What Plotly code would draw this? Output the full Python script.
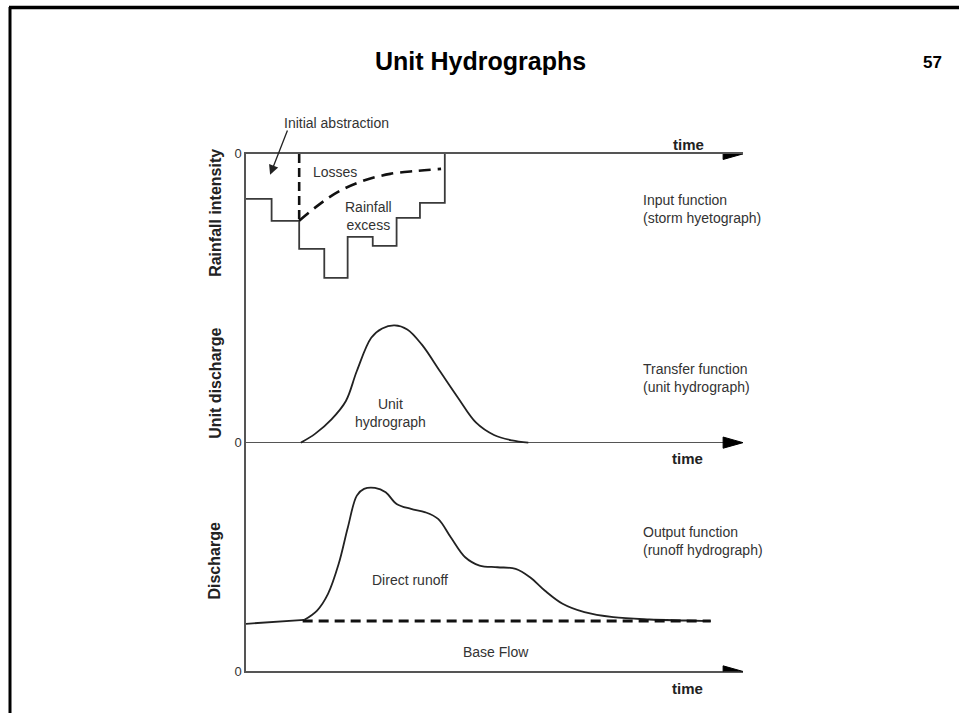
import plotly.graph_objects as go

# ---------------- data ----------------
# Storm hyetograph (time in h, intensity plotted downward)
rain_t = [0, 1.03, 2.14, 3.15, 4.09, 5.10, 6.06, 7.0, 8.0]
rain_i = [4.5, 6.7, 9.5, 12.4, 8.3, 9.2, 6.4, 4.9, 0]
# end of initial abstraction
abstr_t = [2.14, 2.14]
abstr_i = [0, 6.7]
# loss curve (boundary between losses and rainfall excess)
loss_t = [2.14, 2.98, 3.78, 4.71, 5.80, 6.88, 7.85]
loss_i = [6.7, 5.0, 3.7, 2.7, 2.0, 1.7, 1.5]

# Unit hydrograph
uh_t = [2.21, 2.79, 3.44, 4.02, 4.46, 5.04, 5.48, 5.98, 6.49, 7.07, 7.80, 8.53, 9.26, 9.98, 10.70, 11.36]
uh_q = [0, 0.9, 2.33, 4.17, 7.17, 10.5, 11.43, 11.73, 11.33, 9.83, 7.17, 4.5, 2.0, 0.77, 0.23, 0]

# Runoff hydrograph
pre_t = [0, 2.35]
pre_q = [4.77, 5.17]
ro_t = [2.35, 2.86, 3.30, 3.73, 4.10, 4.46, 4.75, 5.19, 5.62, 6.06, 6.64, 7.22, 7.73, 8.24,
        8.82, 9.40, 10.12, 10.85, 11.43, 12.02, 12.74, 13.62, 14.78, 16.23, 17.68, 18.70]
ro_q = [5.17, 6.1, 7.77, 10.77, 14.43, 17.6, 18.27, 18.37, 17.93, 16.77, 16.27, 15.93, 15.27, 13.43,
        11.43, 10.6, 10.43, 10.27, 9.43, 8.1, 6.77, 5.93, 5.43, 5.2, 5.1, 5.03]
base_t = [2.28, 18.7]
base_q = [5.05, 5.05]

T_END = 20  # end of time axes (arrow tip)

# ---------------- layout helpers ----------------
W, H = 959, 721
# vertical calibration of the rendered page (observed: row -> 0.98*row + 6)
VS, VO = 0.98, 6.0
def py(p):  # target pixel row -> paper y
    return 1 - ((p - VO) / VS) / H
def px(p):  # pixel column -> paper x
    return p / W

AX = "#555555"
CURVE = "#222222"
TXT = "#333333"
FONT = "Liberation Sans, Arial, sans-serif"

fig = go.Figure()

# top panel traces
fig.add_trace(go.Scatter(x=rain_t, y=rain_i, mode="lines", line=dict(shape="hv", color="#3a3a3a", width=1.8),
                         xaxis="x", yaxis="y", hoverinfo="skip"))
fig.add_trace(go.Scatter(x=abstr_t, y=abstr_i, mode="lines", line=dict(color="#111", width=2.6, dash="9px,5px"),
                         xaxis="x", yaxis="y", hoverinfo="skip"))
fig.add_trace(go.Scatter(x=loss_t, y=loss_i, mode="lines", line=dict(shape="spline", color="#111", width=2.6, dash="12px,7px"),
                         xaxis="x", yaxis="y", hoverinfo="skip"))
# middle panel
fig.add_trace(go.Scatter(x=uh_t, y=uh_q, mode="lines", line=dict(shape="spline", color=CURVE, width=1.8),
                         xaxis="x2", yaxis="y2", hoverinfo="skip"))
# bottom panel
fig.add_trace(go.Scatter(x=pre_t, y=pre_q, mode="lines", line=dict(color=CURVE, width=1.8),
                         xaxis="x3", yaxis="y3", hoverinfo="skip"))
fig.add_trace(go.Scatter(x=ro_t, y=ro_q, mode="lines", line=dict(shape="spline", color=CURVE, width=1.8),
                         xaxis="x3", yaxis="y3", hoverinfo="skip"))
fig.add_trace(go.Scatter(x=base_t, y=base_q, mode="lines", line=dict(color="#111", width=2.8, dash="10px,6px"),
                         xaxis="x3", yaxis="y3", hoverinfo="skip"))

xdom = [px(246), px(743)]
xcommon = dict(domain=xdom, range=[0, T_END], showgrid=False, zeroline=False, showticklabels=False,
               ticks="", fixedrange=True)
ycommon = dict(showgrid=False, showline=True, linecolor=AX, linewidth=1.6, ticks="",
               tickvals=[0], ticktext=["0"], tickfont=dict(family=FONT, size=13, color=TXT),
               fixedrange=True)

fig.update_layout(
    width=W, height=H, margin=dict(l=0, r=0, t=0, b=0),
    paper_bgcolor="white", plot_bgcolor="rgba(0,0,0,0)", showlegend=False,
    xaxis=dict(**xcommon, anchor="y", side="top", showline=True, linecolor=AX, linewidth=1.6),
    yaxis=dict(**ycommon, domain=[py(295), py(153)], range=[14.2, 0], anchor="x", zeroline=False),
    xaxis2=dict(**xcommon, anchor="y2", showline=False),
    yaxis2=dict(**ycommon, domain=[py(470), py(295)], range=[-2.8, 14.7], anchor="x2",
                zeroline=True, zerolinecolor=AX, zerolinewidth=1.6),
    xaxis3=dict(**xcommon, anchor="y3", side="bottom", showline=True, linecolor=AX, linewidth=1.6),
    yaxis3=dict(**ycommon, domain=[py(671), py(470)], range=[0, 20.1], anchor="x3", zeroline=False),
)

shapes = []
# arrowheads at the end of each time axis
for xr, yr in [("x", "y"), ("x2", "y2"), ("x3", "y3")]:
    shapes.append(dict(type="path", xref=xr, yref=yr,
                       path=f"M {T_END-0.8},-0.56 L {T_END},0 L {T_END-0.8},0.56 Z",
                       fillcolor="black", line=dict(color="black", width=1)))
# slide frame (top and left edges)
shapes.append(dict(type="line", xref="paper", yref="paper", x0=px(9), x1=1, y0=1 - 0.5 / H, y1=1 - 0.5 / H,
                   line=dict(color="black", width=3.5)))
shapes.append(dict(type="line", xref="paper", yref="paper", x0=px(10), x1=px(10), y0=1, y1=0,
                   line=dict(color="black", width=3)))
fig.update_layout(shapes=shapes)

ann = []
def txt(text, x, y, xref, yref, size=14, color=TXT, bold=False, xanchor="center", align="center", angle=0, fam=FONT):
    t = f"<b>{text}</b>" if bold else text
    ann.append(dict(text=t, x=x, y=y, xref=xref, yref=yref, showarrow=False, xanchor=xanchor,
                    yanchor="middle", align=align, textangle=angle,
                    font=dict(family=fam, size=size, color=color)))

# title & page number
txt("Unit Hydrographs", px(480), py(60), "paper", "paper", size=25, color="black", bold=True)
txt("57", px(932), py(62), "paper", "paper", size=17, color="black", bold=True)

# axis titles
txt("Rainfall intensity", px(216), 5.9, "paper", "y", size=16, color="#222", bold=True, angle=-90)
txt("Unit discharge", px(216), 5.9, "paper", "y2", size=16, color="#222", bold=True, angle=-90)
txt("Discharge", px(215), 11.0, "paper", "y3", size=16, color="#222", bold=True, angle=-90)

# time labels (outside some axis ranges -> placed in paper coordinates)
txt("time", 17.79, py(144), "x", "paper", size=15, color="#222", bold=True)
txt("time", 17.75, py(458), "x2", "paper", size=15, color="#222", bold=True)
txt("time", 17.75, py(688), "x3", "paper", size=15, color="#222", bold=True)

# top panel labels
txt("Initial abstraction", 3.66, py(122), "x", "paper")
txt("Losses", 3.58, 1.8, "x", "y")
txt("Rainfall<br>excess", 4.91, 6.2, "x", "y")
txt("Input function<br>(storm hyetograph)", 15.9, 5.5, "x", "y", xanchor="left", align="left")
ann.append(dict(text="", x=0.97, y=2.1, ax=1.69, ay=-2.5, xref="x", yref="y", axref="x", ayref="y",
                showarrow=True, arrowhead=2, arrowsize=1.5, arrowwidth=1.3, arrowcolor="#222"))

# middle panel labels
txt("Unit<br>hydrograph", 5.8, 3.0, "x2", "y2")
txt("Transfer function<br>(unit hydrograph)", 15.9, 6.5, "x2", "y2", xanchor="left", align="left")

# bottom panel labels
txt("Direct runoff", 6.6, 9.2, "x3", "y3")
txt("Base Flow", 10.06, 1.9, "x3", "y3")
txt("Output function<br>(runoff hydrograph)", 15.9, 13.1, "x3", "y3", xanchor="left", align="left")

fig.update_layout(annotations=ann)
fig.write_html("out.html", config={"displayModeBar": False, "staticPlot": True},
               post_script="document.body.style.margin='0';document.body.style.padding='0';")
